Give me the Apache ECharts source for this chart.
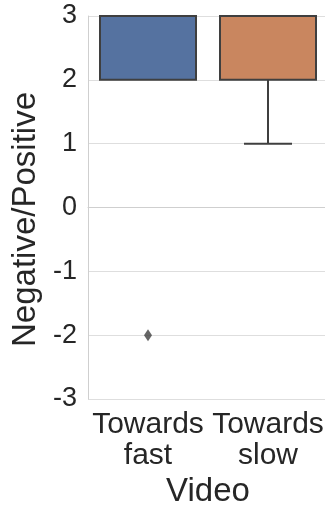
<!DOCTYPE html>
<html>
<head>
<meta charset="utf-8">
<script src="https://cdn.jsdelivr.net/npm/echarts@6/dist/echarts.min.js"></script>
<style>
  html, body { margin: 0; padding: 0; background: #ffffff; }
  #chart { width: 325px; height: 506px; }
</style>
</head>
<body>
<div id="chart"></div>
<script>
// Box-plot summary per video condition
const categories = ['Towards\nfast', 'Towards\nslow'];
const lowerWhisker = [2, 1];
const q1 = [2, 2];
const median = [3, 3];
const q3 = [3, 3];
const upperWhisker = [3, 3];
const boxColors = ['#5572a0', '#c9865f'];

// Points beyond the whiskers
const outlierCategory = [0];
const outlierValue = [-2];

const yTicks = [-3, -2, -1, 0, 1, 2, 3];

const FONT = "'Liberation Sans', Arial, sans-serif";
const EDGE = '#3f3f3f';

const boxData = categories.map((c, i) => [i, lowerWhisker[i], q1[i], median[i], q3[i], upperWhisker[i]]);
const outlierData = outlierCategory.map((c, i) => [c, outlierValue[i]]);

function renderBox(params, api) {
  const idx = api.value(0);
  const band = api.size([1, 0])[0];
  const boxW = band * 0.8;
  const capW = band * 0.4;
  const x = api.coord([idx, 0])[0];
  const yLo = api.coord([idx, api.value(1)])[1];
  const yQ1 = api.coord([idx, api.value(2)])[1];
  const yMed = api.coord([idx, api.value(3)])[1];
  const yQ3 = api.coord([idx, api.value(4)])[1];
  const yHi = api.coord([idx, api.value(5)])[1];
  const line = { stroke: EDGE, lineWidth: 2 };
  const children = [];
  if (yLo !== yQ1) {
    children.push({ type: 'line', shape: { x1: x, y1: yQ1, x2: x, y2: yLo }, style: line });
    children.push({ type: 'line', shape: { x1: x - capW / 2, y1: yLo, x2: x + capW / 2, y2: yLo }, style: line });
  }
  if (yHi !== yQ3) {
    children.push({ type: 'line', shape: { x1: x, y1: yQ3, x2: x, y2: yHi }, style: line });
    children.push({ type: 'line', shape: { x1: x - capW / 2, y1: yHi, x2: x + capW / 2, y2: yHi }, style: line });
  }
  children.push({
    type: 'rect',
    shape: { x: x - boxW / 2, y: yQ3, width: boxW, height: yQ1 - yQ3 },
    style: { fill: boxColors[idx], stroke: EDGE, lineWidth: 2 }
  });
  children.push({ type: 'line', shape: { x1: x - boxW / 2, y1: yMed, x2: x + boxW / 2, y2: yMed }, style: line });
  return { type: 'group', children: children };
}

const chart = echarts.init(document.getElementById('chart'), null, { renderer: 'canvas' });
chart.setOption({
  animation: false,
  backgroundColor: '#ffffff',
  grid: { left: 88, right: -3, top: 16, bottom: 107, containLabel: false, outerBoundsMode: 'none' },
  xAxis: {
    type: 'category',
    data: categories,
    name: 'Video',
    nameLocation: 'middle',
    nameGap: 64,
    nameTextStyle: { fontFamily: FONT, fontSize: 33, color: '#262626' },
    axisLine: { show: true, lineStyle: { color: '#cfcfcf', width: 1 } },
    axisTick: { show: false },
    axisLabel: { fontFamily: FONT, fontSize: 30, lineHeight: 31, color: '#262626', margin: 10, interval: 0 },
    splitLine: { show: false }
  },
  yAxis: {
    type: 'value',
    min: yTicks[0],
    max: yTicks[yTicks.length - 1],
    interval: 1,
    name: 'Negative/Positive',
    nameLocation: 'middle',
    nameGap: 32,
    nameTextStyle: { fontFamily: FONT, fontSize: 33, color: '#262626', padding: [0, 24, 0, 0] },
    axisLine: { show: true, lineStyle: { color: '#cfcfcf', width: 1 } },
    axisTick: { show: false },
    axisLabel: { fontFamily: FONT, fontSize: 27, color: '#262626', margin: 11 },
    splitLine: { show: true, lineStyle: { color: '#dedede', width: 1 } }
  },
  series: [
    {
      type: 'custom',
      renderItem: renderBox,
      encode: { x: 0, y: [1, 2, 3, 4, 5] },
      data: boxData,
      clip: false,
      z: 3
    },
    {
      type: 'scatter',
      data: outlierData,
      symbol: 'diamond',
      symbolSize: [8, 12],
      itemStyle: { color: EDGE },
      z: 4
    }
  ]
});
</script>
</body>
</html>
